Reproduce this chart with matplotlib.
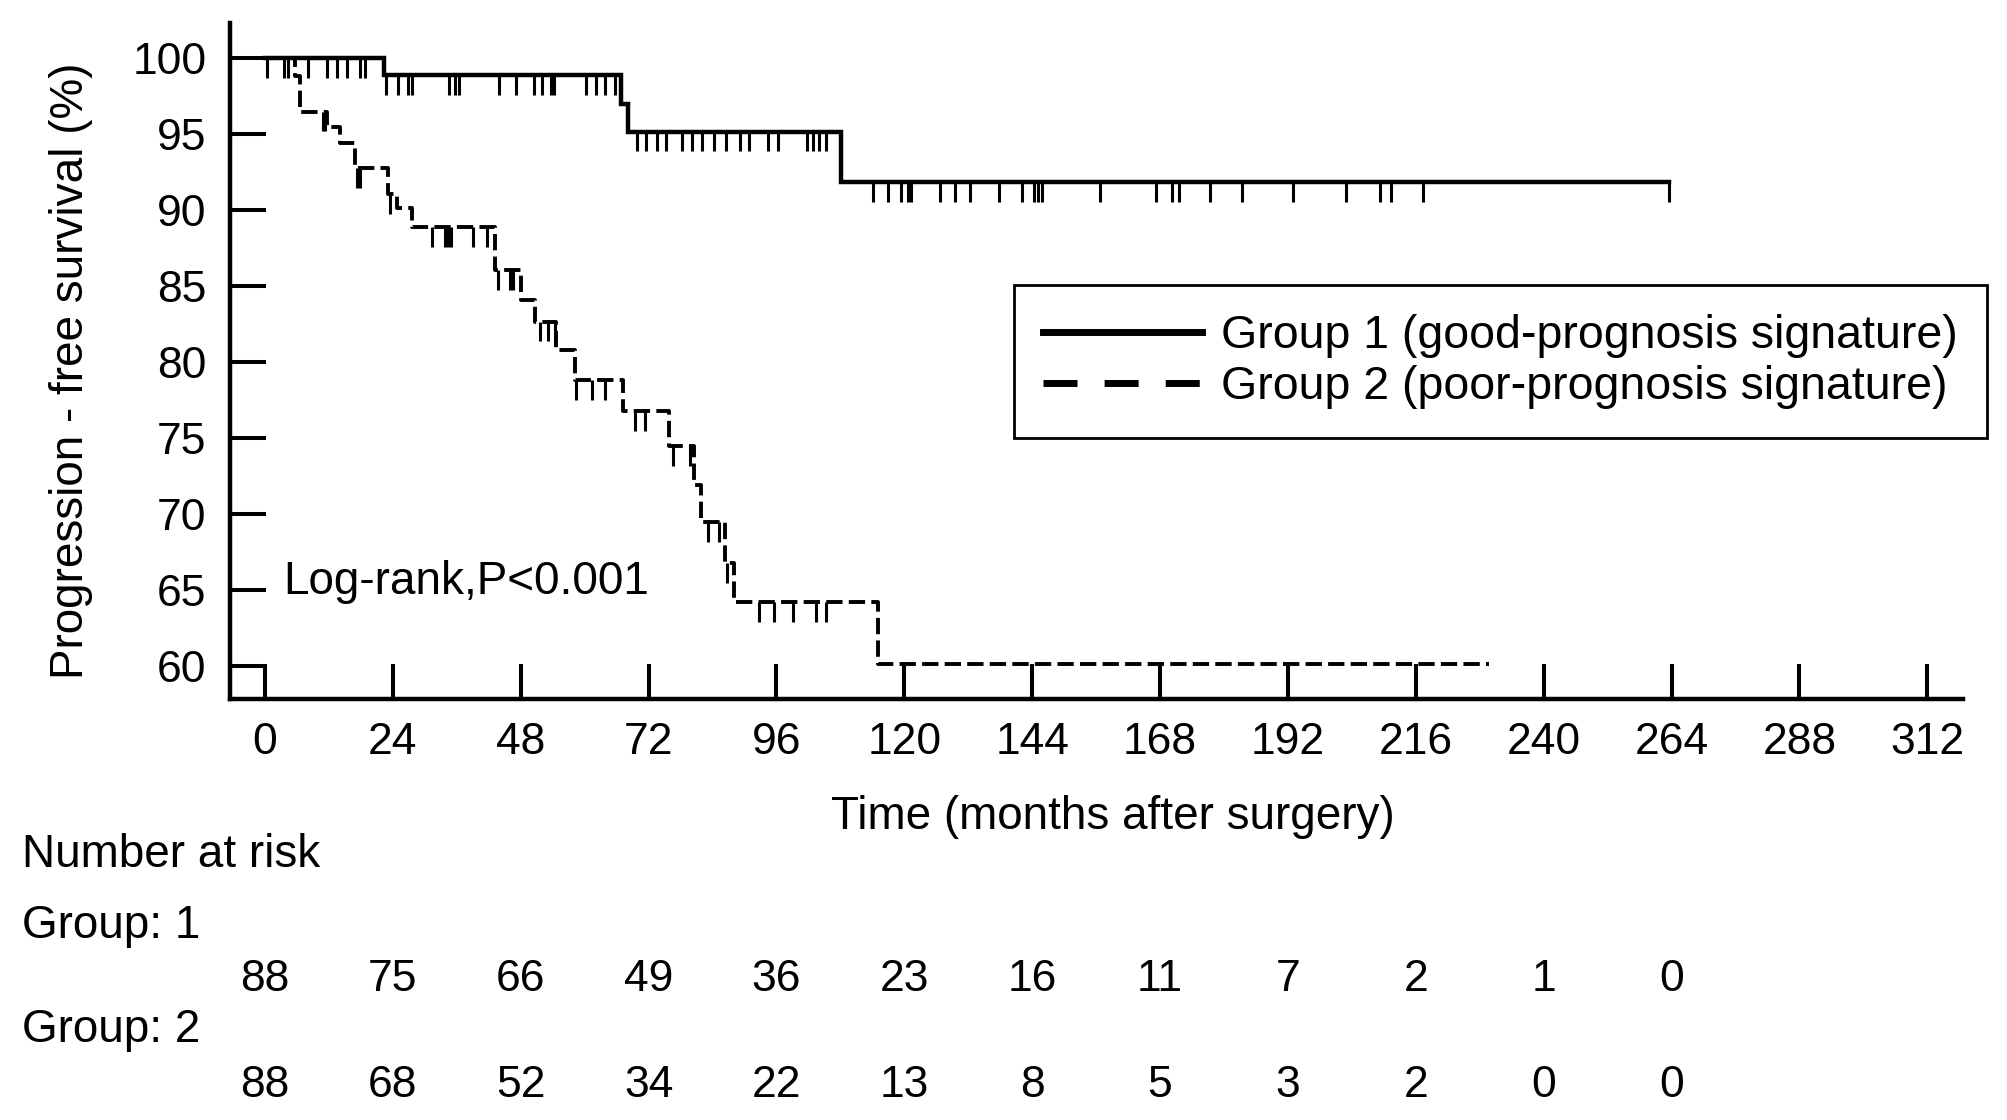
import numpy as np
import matplotlib
matplotlib.use("Agg")
import matplotlib.pyplot as plt
from matplotlib.lines import Line2D
from matplotlib import transforms

plt.rcParams['font.family'] = ['Liberation Sans', 'DejaVu Sans']

# Kaplan-Meier curves (months, % progression-free)
g1_times = [0, 22.3, 66.9, 68.1, 108.2, 263.6]
g1_surv = [100, 98.86, 97.0, 95.15, 91.85, 91.85]
g1_censor = [0.3, 3.5, 4.4, 8.0, 11.6, 13.6, 15.4, 17.8, 18.7,
             22.8, 24.9, 26.8, 27.5, 34.6, 35.6, 36.5, 44.0, 47.2, 50.4,
             51.9, 53.7, 54.3, 60.3, 62.1, 63.9, 65.7,
             69.9, 71.6, 73.5, 75.2, 78.2, 80.1, 82.0, 84.2, 86.6, 89.1,
             90.8, 94.4, 96.2, 101.7, 102.8, 103.9, 105.3,
             114.1, 117.0, 119.3, 120.6, 121.2, 126.6, 129.5, 132.3, 137.8,
             142.1, 144.3, 145.1, 145.8, 156.8, 167.2, 170.2, 171.6, 177.4,
             183.3, 193.0, 202.9, 209.3, 211.3, 217.4, 263.6]

g2_times = [0, 5.6, 6.6, 11.6, 14.1, 16.9, 23.1, 24.7, 27.5, 43.1, 48.1,
            50.6, 54.7, 58.1, 67.2, 75.8, 80.6, 81.9, 86.3, 88.1, 115.0, 229.8]
g2_surv = [100, 98.8, 96.46, 95.44, 94.38, 92.74, 91.05, 90.11, 88.89, 86.04,
           84.07, 82.64, 80.78, 78.8, 76.78, 74.45, 71.89, 69.47, 66.73, 64.21,
           60.1, 60.1]
g2_censor = [10.9, 11.3, 17.3, 17.9, 23.4, 31.3, 33.8, 34.4, 35.0, 39.1, 41.6,
             43.75, 45.9, 46.6, 51.6, 53.1, 54.4, 58.4, 61.3, 63.8, 69.4, 71.3,
             76.6, 79.7, 83.1, 85.3, 86.7, 92.8, 95.6, 99.1, 103.4, 105.3]

risk_times = [0, 24, 48, 72, 96, 120, 144, 168, 192, 216, 240, 264]
risk_g1 = [88, 75, 66, 49, 36, 23, 16, 11, 7, 2, 1, 0]
risk_g2 = [88, 68, 52, 34, 22, 13, 8, 5, 3, 2, 0, 0]

x_ticks = list(range(0, 313, 24))
y_ticks = [60, 65, 70, 75, 80, 85, 90, 95, 100]

legend_labels = ["Group 1 (good-prognosis signature)",
                 "Group 2 (poor-prognosis signature)"]

W, H = 2008, 1120
fig = plt.figure(figsize=(W / 100, H / 100), dpi=100)
ax = fig.add_axes([230 / W, 1 - 699 / H, (1963 - 230) / W, (699 - 23) / H])


def level_at(times, surv, t):
    idx = np.searchsorted(times, t, side='right') - 1
    return np.asarray(surv)[idx]


# curves
ax.step(g1_times, g1_surv, where='post', color='black', lw=3.2,
        solid_joinstyle='miter')
ax.step(g2_times, g2_surv, where='post', color='black', lw=2.8,
        linestyle=(0, (4.2, 1.6)))

# censor marks (short ticks hanging below the curve)
tick_len = 1.3
c1 = level_at(g1_times, g1_surv, g1_censor)
ax.vlines(g1_censor, c1 - tick_len, c1, color='black', lw=2.2)
c2 = level_at(g2_times, g2_surv, g2_censor)
ax.vlines(g2_censor, c2 - tick_len, c2, color='black', lw=2.2)

ax.set_xlim(-6.57, 318.7)
ax.set_ylim(57.81, 102.3)
ax.set_xticks(x_ticks)
ax.set_yticks(y_ticks)

for side in ['top', 'right']:
    ax.spines[side].set_visible(False)
for side in ['left', 'bottom']:
    ax.spines[side].set_linewidth(3.2)

ax.tick_params(axis='x', direction='in', length=25, width=2.9, pad=16.5,
               labelsize=32)
ax.tick_params(axis='y', direction='in', length=26, width=2.9, pad=17,
               labelsize=32)

ax.text(3.4, 65.5, "Log-rank,P<0.001", fontsize=33, va='center', ha='left')

# legend
handles = [Line2D([], [], color='black', lw=5),
           Line2D([], [], color='black', lw=5, linestyle=(0, (4.9, 3.9)))]
leg = ax.legend(handles, legend_labels, loc='upper left',
                bbox_to_anchor=(1014 / W, 1 - 285 / H),
                bbox_transform=fig.transFigure, borderaxespad=0,
                fontsize=33.5, frameon=True, fancybox=False, framealpha=1,
                edgecolor='black', handlelength=3.4, handletextpad=0.42,
                labelspacing=0.14, borderpad=0.63)
leg.get_frame().set_linewidth(2.0)

# axis labels
fig.text(71 / W, 1 - 371 / H, "Progression - free survival (%)", fontsize=33,
         rotation=90, ha='center', va='center')
fig.text(1113 / W, 1 - 817 / H, "Time (months after surgery)", fontsize=33,
         ha='center', va='center')

# number at risk table
fig.text(22 / W, 1 - 867 / H, "Number at risk", fontsize=33, va='baseline')
fig.text(22 / W, 1 - 938 / H, "Group: 1", fontsize=33, va='baseline')
fig.text(22 / W, 1 - 1042 / H, "Group: 2", fontsize=33, va='baseline')

blend = transforms.blended_transform_factory(ax.transData, fig.transFigure)
for t, n1, n2 in zip(risk_times, risk_g1, risk_g2):
    ax.text(t, 1 - 991 / H, str(n1), transform=blend, fontsize=32,
            ha='center', va='baseline', clip_on=False)
    ax.text(t, 1 - 1097 / H, str(n2), transform=blend, fontsize=32,
            ha='center', va='baseline', clip_on=False)

fig.savefig("out.png", dpi=100, facecolor='white')
